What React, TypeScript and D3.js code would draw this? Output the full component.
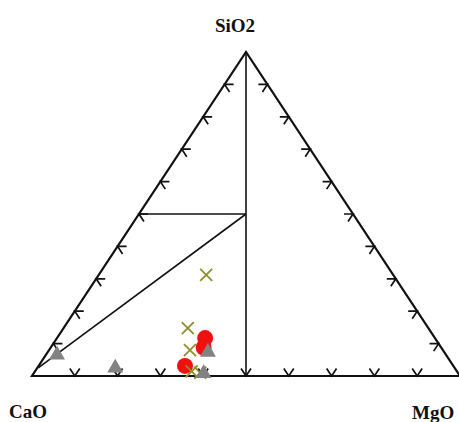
import React from "react";
import * as d3 from "d3";

// Ternary data: [SiO2, MgO] fractions (CaO = 1 - SiO2 - MgO)
const crossPoints: [number, number][] = [
  [0.312, 0.251],
  [0.148, 0.29],
  [0.08, 0.329],
  [0.014, 0.366],
  [0.01, 0.388],
];
const circlePoints: [number, number][] = [
  [0.117, 0.346],
  [0.088, 0.357],
  [0.031, 0.342],
];
const trianglePoints: [number, number][] = [
  [0.065, 0.026],
  [0.025, 0.182],
  [0.074, 0.374],
  [0.008, 0.397],
];
// Field boundary lines (ternary [SiO2, MgO])
const boundaryLines: [number, number][][] = [
  [[1, 0], [0, 0.5]],
  [[0.5, 0], [0.5, 0.25]],
  [[0.5, 0.25], [0.025, 0.002]],
];
const tickFractions = [0.1, 0.2, 0.3, 0.4, 0.5, 0.6, 0.7, 0.8, 0.9];
const apexLabels = ["SiO2", "CaO", "MgO"];

export default function App() {
  const width = 459;
  const height = 422;
  const x0 = 32, W = 428, yb = 376, H = 324;
  const xs = d3.scaleLinear().domain([0, 1]).range([x0, x0 + W]);
  const ys = d3.scaleLinear().domain([0, 1]).range([yb, yb - H]);
  const P = (s: number, m: number): [number, number] => [xs(m + s / 2), ys(s)];
  const line = d3.line();

  const L = Math.hypot(W / 2, H);
  const upLeft: [number, number] = [(-W / 2) / L, -H / L];
  const upRight: [number, number] = [(W / 2) / L, -H / L];
  const downRight: [number, number] = [(W / 2) / L, H / L];
  const downLeft: [number, number] = [(-W / 2) / L, H / L];
  const tl = 9;

  const ticks: string[] = [];
  tickFractions.forEach((t) => {
    const b = P(0, t);
    ticks.push(line([[b[0] + upLeft[0] * tl, b[1] + upLeft[1] * tl], b, [b[0] + upRight[0] * tl, b[1] + upRight[1] * tl]])!);
    const l = P(t, 0);
    ticks.push(line([[l[0] + tl, l[1]], l, [l[0] + downRight[0] * tl, l[1] + downRight[1] * tl]])!);
    const r = P(t, 1 - t);
    ticks.push(line([[r[0] - tl, r[1]], r, [r[0] + downLeft[0] * tl, r[1] + downLeft[1] * tl]])!);
  });

  const tri = d3.symbol().type(d3.symbolTriangle).size(110)();

  return (
    <svg width={width} height={height} style={{ display: "block", position: "absolute", left: 0, top: 0 }}>
      <rect width={width} height={height} fill="#fff" />
      {ticks.map((d, i) => (
        <path key={"t" + i} d={d} fill="none" stroke="#111" strokeWidth={1.7} />
      ))}
      {boundaryLines.map((seg, i) => (
        <path key={"b" + i} d={line(seg.map(([s, m]) => P(s, m)))!} fill="none" stroke="#111" strokeWidth={1.6} />
      ))}
      <path d={line([P(0, 0), P(0, 1), P(1, 0)])! + "Z"} fill="none" stroke="#111" strokeWidth={2.2} strokeLinejoin="miter" />
      {circlePoints.map(([s, m], i) => {
        const [cx, cy] = P(s, m);
        return <circle key={"c" + i} cx={cx} cy={cy} r={8} fill="#f01010" />;
      })}
      {crossPoints.map(([s, m], i) => {
        const [cx, cy] = P(s, m);
        const r = 6;
        return (
          <path key={"x" + i} d={`M${cx - r},${cy - r}L${cx + r},${cy + r}M${cx - r},${cy + r}L${cx + r},${cy - r}`} stroke="#8f8f2c" strokeWidth={1.8} fill="none" />
        );
      })}
      {trianglePoints.map(([s, m], i) => {
        const [cx, cy] = P(s, m);
        return <path key={"g" + i} d={tri!} transform={`translate(${cx},${cy})`} fill="#828282" />;
      })}
      <g fontFamily="'Liberation Serif', 'Times New Roman', serif" fontWeight="bold" fontSize={19} fill="#111">
        <text x={235} y={32} textAnchor="middle">{apexLabels[0]}</text>
        <text x={9} y={418}>{apexLabels[1]}</text>
        <text x={412} y={419}>{apexLabels[2]}</text>
      </g>
    </svg>
  );
}
